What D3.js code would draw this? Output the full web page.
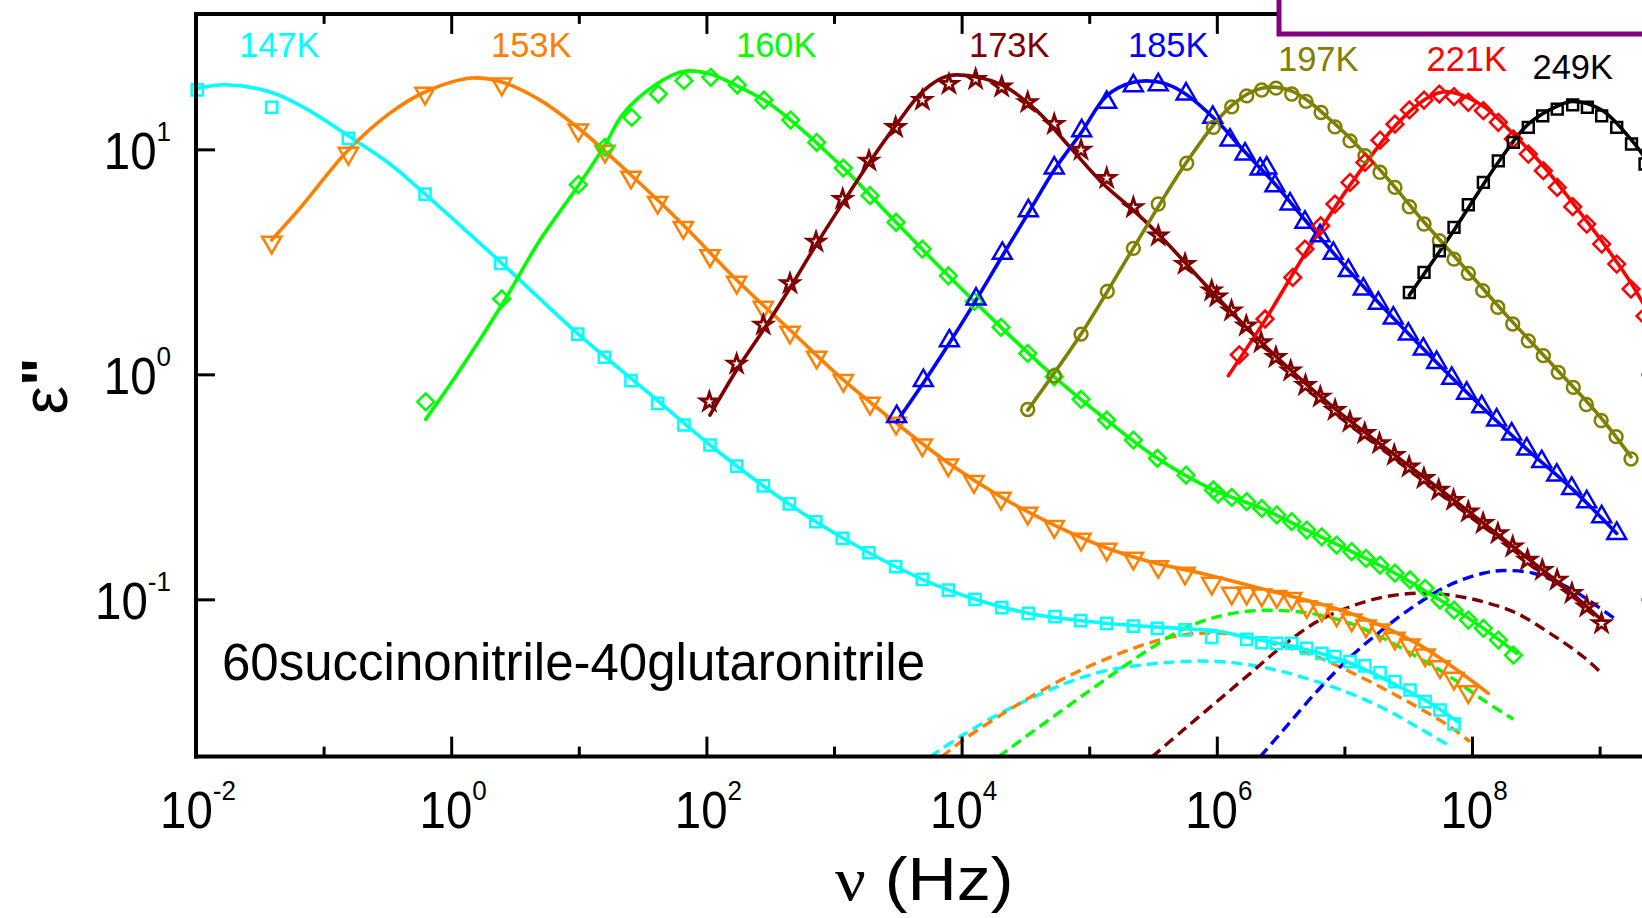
<!DOCTYPE html>
<html><head><meta charset="utf-8">
<script src="https://cdn.jsdelivr.net/npm/d3@7"></script>
<style>html,body{margin:0;padding:0;background:#fff;overflow:hidden}</style>
</head><body>
<svg id="c" width="1642" height="918"></svg>
<script>
// Values, stored as [log10(nu / Hz), log10(eps'')]
const temps = ["147K","153K","160K","173K","185K","197K","221K","249K"];
const xMajorExp = [-2,0,2,4,6,8];
const xMinorExp = [-1,1,3,5,7,9];
const yTickExp = [-1,0,1];
const sample = "60succinonitrile-40glutaronitrile";

const d147 = [[-1.990,1.264],[-1.407,1.187],[-0.806,1.049],[-0.205,0.801],[0.388,0.493],[0.991,0.179],[1.200,0.076],[1.409,-0.028],[1.618,-0.129],[1.824,-0.225],[2.028,-0.314],[2.237,-0.408],[2.446,-0.496],[2.650,-0.576],[2.857,-0.655],[3.065,-0.729],[3.274,-0.793],[3.483,-0.855],[3.692,-0.911],[3.896,-0.959],[4.105,-1.000],[4.314,-1.037],[4.523,-1.062],[4.732,-1.077],[4.933,-1.095],[5.137,-1.107],[5.346,-1.119],[5.534,-1.129],[5.751,-1.136],[5.960,-1.169],[6.234,-1.178],[6.352,-1.193],[6.470,-1.196],[6.587,-1.196],[6.705,-1.218],[6.822,-1.240],[6.926,-1.255],[7.044,-1.277],[7.161,-1.296],[7.279,-1.326],[7.396,-1.366],[7.514,-1.403],[7.632,-1.455],[7.749,-1.492],[7.859,-1.554]];
const fit147 = [[-2.0,1.27],[-1.773,1.287],[-1.407,1.253],[-1.132,1.179],[-0.806,1.060],[-0.480,0.935],[-0.205,0.801],[0.388,0.498],[0.996,0.179],[1.558,-0.088],[2.028,-0.314],[2.446,-0.496],[2.857,-0.655],[3.274,-0.793],[3.692,-0.911],[4.105,-1.000],[4.523,-1.062],[4.933,-1.095],[5.346,-1.116],[5.735,-1.130],[6.002,-1.141],[6.260,-1.172],[6.652,-1.216],[7.044,-1.283],[7.436,-1.390],[7.671,-1.461],[7.890,-1.545]];
const dash147 = [[3.752,-1.700],[3.987,-1.611],[4.301,-1.507],[4.589,-1.428],[4.850,-1.366],[5.137,-1.316],[5.476,-1.288],[5.737,-1.276],[5.999,-1.276],[6.260,-1.292],[6.521,-1.322],[6.783,-1.366],[7.044,-1.418],[7.305,-1.484],[7.567,-1.566],[7.814,-1.648]];

const d153 = [[-1.407,0.587],[-0.806,0.982],[-0.205,1.249],[0.396,1.290],[0.996,1.086],[1.205,0.991],[1.409,0.876],[1.618,0.764],[1.819,0.653],[2.028,0.527],[2.237,0.409],[2.446,0.298],[2.655,0.187],[2.864,0.076],[3.073,-0.028],[3.282,-0.129],[3.486,-0.218],[3.692,-0.314],[3.896,-0.403],[4.097,-0.477],[4.309,-0.551],[4.518,-0.618],[4.726,-0.677],[4.936,-0.733],[5.137,-0.778],[5.346,-0.818],[5.541,-0.855],[5.751,-0.884],[5.960,-0.929],[6.117,-0.973],[6.234,-0.973],[6.352,-0.981],[6.470,-0.988],[6.587,-0.996],[6.705,-1.033],[6.822,-1.048],[6.939,-1.070],[7.057,-1.092],[7.169,-1.119],[7.279,-1.136],[7.396,-1.173],[7.514,-1.203],[7.632,-1.248],[7.749,-1.300],[7.859,-1.351],[7.971,-1.411]];
const fit153 = [[-1.407,0.597],[-1.185,0.739],[-0.806,0.997],[-0.480,1.161],[-0.205,1.255],[0.161,1.317],[0.396,1.299],[0.696,1.219],[0.996,1.095],[1.409,0.886],[1.819,0.664],[2.237,0.419],[2.655,0.197],[3.073,-0.025],[3.486,-0.216],[3.896,-0.394],[4.309,-0.545],[4.726,-0.670],[5.137,-0.772],[5.476,-0.833],[5.868,-0.883],[6.391,-0.959],[7.044,-1.062],[7.567,-1.196],[8.128,-1.418]];
const dash153 = [[3.844,-1.700],[4.013,-1.625],[4.327,-1.507],[4.589,-1.418],[4.850,-1.338],[5.111,-1.270],[5.476,-1.193],[5.737,-1.158],[5.999,-1.150],[6.260,-1.170],[6.521,-1.208],[6.783,-1.255],[7.044,-1.322],[7.305,-1.396],[7.567,-1.477],[7.828,-1.566],[7.984,-1.633]];

const d160 = [[-0.200,-0.122],[0.396,0.335],[0.996,0.843],[1.205,1.009],[1.414,1.142],[1.623,1.246],[1.824,1.305],[2.034,1.320],[2.242,1.286],[2.451,1.219],[2.660,1.130],[2.864,1.031],[3.073,0.917],[3.282,0.794],[3.486,0.676],[3.692,0.557],[3.896,0.438],[4.100,0.324],[4.309,0.209],[4.518,0.093],[4.726,-0.011],[4.936,-0.111],[5.137,-0.203],[5.346,-0.292],[5.534,-0.373],[5.759,-0.448],[5.973,-0.514],[6.009,-0.532],[6.117,-0.547],[6.234,-0.566],[6.352,-0.596],[6.470,-0.625],[6.587,-0.655],[6.705,-0.692],[6.822,-0.722],[6.939,-0.759],[7.057,-0.788],[7.169,-0.818],[7.279,-0.848],[7.396,-0.884],[7.514,-0.914],[7.632,-0.951],[7.749,-1.003],[7.859,-1.048],[7.971,-1.092],[8.089,-1.129],[8.206,-1.181],[8.324,-1.248]];
const fit160 = [[-0.200,-0.200],[0.069,0.019],[0.396,0.308],[0.696,0.597],[0.994,0.837],[1.205,1.019],[1.346,1.157],[1.610,1.290],[1.824,1.347],[2.028,1.335],[2.237,1.283],[2.451,1.219],[2.660,1.130],[3.073,0.917],[3.486,0.676],[3.896,0.438],[4.309,0.209],[4.726,-0.011],[5.137,-0.203],[5.534,-0.373],[5.973,-0.514],[6.352,-0.596],[6.705,-0.692],[7.057,-0.788],[7.396,-0.884],[7.749,-1.003],[8.089,-1.129],[8.350,-1.240]];
const dash160 = [[4.288,-1.700],[4.589,-1.575],[4.850,-1.468],[5.111,-1.362],[5.476,-1.220],[5.737,-1.132],[5.999,-1.078],[6.260,-1.052],[6.521,-1.050],[6.783,-1.067],[7.044,-1.107],[7.305,-1.173],[7.567,-1.255],[7.828,-1.344],[8.089,-1.448],[8.324,-1.533]];

const d173 = [[2.023,-0.122],[2.237,0.046],[2.446,0.220],[2.655,0.404],[2.859,0.589],[3.068,0.779],[3.274,0.949],[3.483,1.098],[3.692,1.219],[3.901,1.290],[4.110,1.312],[4.314,1.278],[4.518,1.209],[4.726,1.112],[4.936,0.997],[5.137,0.872],[5.346,0.742],[5.541,0.616],[5.751,0.490],[5.960,0.372],[5.999,0.345],[6.115,0.283],[6.231,0.216],[6.347,0.142],[6.463,0.076],[6.579,0.016],[6.695,-0.048],[6.811,-0.100],[6.927,-0.159],[7.043,-0.211],[7.159,-0.262],[7.275,-0.307],[7.391,-0.359],[7.507,-0.411],[7.623,-0.462],[7.739,-0.514],[7.855,-0.559],[7.971,-0.611],[8.087,-0.662],[8.203,-0.707],[8.319,-0.766],[8.435,-0.825],[8.551,-0.870],[8.667,-0.914],[8.783,-0.973],[8.899,-1.033],[9.015,-1.107]];
const fit173 = [[2.028,-0.181],[2.237,0.019],[2.446,0.197],[2.655,0.384],[2.859,0.575],[3.068,0.761],[3.274,0.939],[3.491,1.112],[3.700,1.260],[3.896,1.327],[4.105,1.323],[4.327,1.283],[4.589,1.172],[4.850,1.009],[5.111,0.846],[5.346,0.730],[5.555,0.616],[5.999,0.345],[6.470,0.076],[6.939,-0.159],[7.396,-0.359],[7.859,-0.559],[8.321,-0.766],[8.781,-0.973],[9.016,-1.092]];
const dash173 = [[5.492,-1.700],[5.737,-1.581],[5.999,-1.455],[6.260,-1.330],[6.521,-1.205],[6.783,-1.100],[7.044,-1.033],[7.305,-0.990],[7.567,-0.973],[7.828,-0.981],[8.089,-1.011],[8.350,-1.062],[8.611,-1.151],[8.872,-1.255],[9.016,-1.329]];

const d185 = [[3.491,-0.188],[3.700,-0.028],[3.904,0.149],[4.113,0.335],[4.319,0.538],[4.523,0.727],[4.726,0.917],[4.941,1.083],[5.137,1.209],[5.346,1.283],[5.541,1.287],[5.759,1.246],[5.968,1.142],[6.103,1.041],[6.221,0.979],[6.339,0.912],[6.391,0.917],[6.456,0.838],[6.574,0.757],[6.691,0.676],[6.809,0.616],[6.913,0.538],[7.031,0.461],[7.148,0.379],[7.266,0.316],[7.383,0.250],[7.501,0.179],[7.618,0.112],[7.723,0.053],[7.841,-0.018],[7.958,-0.084],[8.076,-0.144],[8.193,-0.203],[8.311,-0.265],[8.429,-0.332],[8.546,-0.388],[8.664,-0.448],[8.781,-0.507],[8.899,-0.566],[9.016,-0.633],[9.134,-0.707]];
const fit185 = [[3.491,-0.211],[3.700,-0.039],[3.904,0.139],[4.113,0.330],[4.319,0.526],[4.523,0.717],[4.726,0.908],[4.941,1.077],[5.137,1.238],[5.346,1.298],[5.555,1.298],[5.737,1.253],[5.999,1.127],[6.221,0.988],[6.456,0.846],[6.691,0.686],[7.031,0.464],[7.383,0.250],[7.723,0.053],[8.076,-0.144],[8.429,-0.332],[8.781,-0.507],[9.134,-0.707]];
const dash185 = [[6.339,-1.700],[6.521,-1.581],[6.783,-1.410],[7.044,-1.258],[7.305,-1.132],[7.567,-1.022],[7.828,-0.935],[8.089,-0.884],[8.245,-0.872],[8.480,-0.884],[8.742,-0.944],[8.872,-0.988],[9.134,-1.092]];

const d197 = [[4.518,-0.156],[4.726,-0.006],[4.936,0.179],[5.142,0.369],[5.346,0.560],[5.541,0.757],[5.764,0.938],[5.973,1.098],[6.117,1.189],[6.234,1.238],[6.352,1.264],[6.464,1.272],[6.587,1.246],[6.699,1.213],[6.817,1.164],[6.926,1.100],[7.044,1.038],[7.161,0.972],[7.279,0.898],[7.396,0.831],[7.509,0.745],[7.624,0.668],[7.744,0.594],[7.859,0.512],[7.971,0.449],[8.084,0.372],[8.202,0.298],[8.319,0.224],[8.441,0.149],[8.559,0.083],[8.676,0.009],[8.794,-0.058],[8.896,-0.134],[9.012,-0.205],[9.129,-0.277],[9.246,-0.376]];
const fit197 = [[4.518,-0.159],[4.936,0.179],[5.346,0.561],[5.764,0.944],[6.117,1.196],[6.352,1.272],[6.587,1.259],[6.926,1.113],[7.279,0.908],[7.624,0.677],[7.971,0.455],[8.319,0.232],[8.676,0.015],[9.012,-0.194],[9.246,-0.367]];

const d221 = [[6.176,0.087],[6.378,0.246],[6.595,0.431],[6.691,0.557],[6.814,0.660],[6.926,0.757],[7.044,0.853],[7.161,0.942],[7.279,1.041],[7.396,1.112],[7.509,1.175],[7.624,1.219],[7.744,1.246],[7.859,1.234],[7.971,1.209],[8.089,1.172],[8.206,1.120],[8.324,1.046],[8.441,0.979],[8.559,0.905],[8.668,0.831],[8.789,0.745],[8.899,0.668],[9.016,0.579],[9.134,0.490],[9.246,0.379],[9.356,0.259]];
const fit221 = [[6.090,-0.006],[6.378,0.241],[6.691,0.535],[7.044,0.841],[7.396,1.103],[7.624,1.219],[7.749,1.253],[7.859,1.252],[8.089,1.192],[8.324,1.068],[8.559,0.926],[8.789,0.762],[9.016,0.593],[9.246,0.406],[9.379,0.277]];

const d249 = [[7.509,0.364],[7.624,0.453],[7.744,0.549],[7.859,0.653],[7.971,0.754],[8.089,0.853],[8.206,0.949],[8.324,1.031],[8.441,1.098],[8.554,1.149],[8.668,1.179],[8.789,1.198],[8.904,1.187],[9.016,1.149],[9.134,1.098],[9.250,1.024],[9.356,0.935]];
const fit249 = [[7.509,0.352],[7.859,0.641],[8.206,0.943],[8.441,1.112],[8.668,1.192],[8.789,1.213],[9.016,1.175],[9.250,1.041],[9.378,0.944]];

(function(){
// ---------- styling / layout ----------
const FONT = "'Liberation Sans', Arial, Helvetica, sans-serif";
const series = [
  {name:temps[0], color:"#00ffff", sym:"square",  pts:d147, fit:fit147, dash:dash147, lx:239,    ly:56.7},
  {name:temps[1], color:"#ff8000", sym:"triDown", pts:d153, fit:fit153, dash:dash153, lx:491,    ly:56.7},
  {name:temps[2], color:"#00ff00", sym:"diamond", pts:d160, fit:fit160, dash:dash160, lx:736,    ly:56.7},
  {name:temps[3], color:"#800000", sym:"star",    pts:d173, fit:fit173, dash:dash173, lx:969,    ly:56.7},
  {name:temps[4], color:"#0000ff", sym:"triUp",   pts:d185, fit:fit185, dash:dash185, lx:1128,   ly:56.7},
  {name:temps[5], color:"#808000", sym:"circle",  pts:d197, fit:fit197, dash:null,    lx:1278,   ly:71.3},
  {name:temps[6], color:"#ff0000", sym:"diamond", pts:d221, fit:fit221, dash:null,    lx:1426.5, ly:71.3},
  {name:temps[7], color:"#000000", sym:"squareK", pts:d249, fit:fit249, dash:null,    lx:1532.5, ly:79}
];
const symbols = {
  square:  {type:d3.symbolSquare,   size:125, rot:0},
  triDown: {type:d3.symbolTriangle, size:160, rot:180},
  diamond: {type:d3.symbolSquare,   size:140, rot:45},
  star:    {type:d3.symbolStar,     size:92,  rot:0},
  triUp:   {type:d3.symbolTriangle, size:155, rot:0},
  circle:  {type:d3.symbolCircle,   size:130, rot:0},
  squareK: {type:d3.symbolSquare,   size:118, rot:0}
};

const svg = d3.select("#c");
svg.append("rect").attr("width",1642).attr("height",918).attr("fill","#fff");

const pL = 196, pR = 1660.5, pT = 13.9, pB = 756.6;
const x = d3.scaleLog().domain([1e-2, 3e9]).range([pL, pR]);
const y = d3.scaleLog().domain([0.02, 40]).range([pB, pT]);
const px = d => x(Math.pow(10, d[0]));
const py = d => y(Math.pow(10, d[1]));

svg.append("clipPath").attr("id","plotclip").append("rect")
  .attr("x",pL).attr("y",pT).attr("width",pR-pL).attr("height",pB-pT);

const line = d3.line().x(px).y(py).curve(d3.curveCatmullRom.alpha(0.5));
const plot = svg.append("g");
const linesG = plot.append("g").attr("clip-path","url(#plotclip)");

series.filter(s => s.dash).forEach(s => {
  linesG.append("path").datum(s.dash).attr("d", line)
    .attr("fill","none").attr("stroke", s.color).attr("stroke-width",3.4)
    .attr("stroke-dasharray","11,6");
});
series.forEach(s => {
  linesG.append("path").datum(s.fit).attr("d", line)
    .attr("fill","none").attr("stroke", s.color).attr("stroke-width",3.6)
    .attr("stroke-linejoin","round").attr("stroke-linecap","round");
});
series.forEach(s => {
  const sp = symbols[s.sym];
  const gen = d3.symbol().type(sp.type).size(sp.size);
  plot.append("g").selectAll("path").data(s.pts).join("path")
    .attr("d", gen)
    .attr("transform", d => `translate(${px(d)},${py(d)}) rotate(${sp.rot})`)
    .attr("fill","none").attr("stroke", s.color)
    .attr("stroke-width", s.sym === "star" ? 2.8 : 2.5);
});

// ---------- axes ----------
const axW = 4, tkW = 3;
function styleAxis(g){
  g.select(".domain").remove();
  g.selectAll(".tick line").attr("stroke","#000").attr("stroke-width",tkW);
  g.selectAll(".tick text").remove();
}
const xMaj = xMajorExp.map(e => Math.pow(10,e));
const xMin = xMinorExp.map(e => Math.pow(10,e));
const yMaj = yTickExp.map(e => Math.pow(10,e));

svg.append("g").attr("transform",`translate(0,${pB})`)
  .call(d3.axisBottom(x).tickValues(xMaj).tickSizeInner(-20).tickSizeOuter(0).tickFormat("")).call(styleAxis);
svg.append("g").attr("transform",`translate(0,${pB})`)
  .call(d3.axisBottom(x).tickValues(xMin).tickSizeInner(-10).tickSizeOuter(0).tickFormat("")).call(styleAxis);
svg.append("g").attr("transform",`translate(0,${pT})`)
  .call(d3.axisTop(x).tickValues(xMaj).tickSizeInner(-20).tickSizeOuter(0).tickFormat("")).call(styleAxis);
svg.append("g").attr("transform",`translate(0,${pT})`)
  .call(d3.axisTop(x).tickValues(xMin).tickSizeInner(-10).tickSizeOuter(0).tickFormat("")).call(styleAxis);
svg.append("g").attr("transform",`translate(${pL},0)`)
  .call(d3.axisLeft(y).tickValues(yMaj).tickSizeInner(-19).tickSizeOuter(0).tickFormat("")).call(styleAxis);
svg.append("g").attr("transform",`translate(${pR},0)`)
  .call(d3.axisRight(y).tickValues(yMaj).tickSizeInner(-19).tickSizeOuter(0).tickFormat("")).call(styleAxis);

const frame = svg.append("g").attr("stroke","#000").attr("stroke-width",axW).attr("stroke-linecap","square");
frame.append("line").attr("x1",pL).attr("x2",pR).attr("y1",pB).attr("y2",pB);
frame.append("line").attr("x1",pL).attr("x2",pR).attr("y1",pT).attr("y2",pT);
frame.append("line").attr("x1",pL).attr("x2",pL).attr("y1",pT).attr("y2",pB);
frame.append("line").attr("x1",pR).attr("x2",pR).attr("y1",pT).attr("y2",pB);

function powText(g, tx, ty, exp, anchor){
  const t = g.append("text").attr("transform",`translate(${tx},${ty}) scale(0.93,1)`)
    .attr("text-anchor",anchor).style("font-family",FONT).attr("fill","#000");
  t.append("tspan").style("font-size","51px").text("10");
  t.append("tspan").style("font-size","28px").attr("dy",-28).text(String(exp));
}
const labG = svg.append("g");
xMajorExp.forEach(e => powText(labG, x(Math.pow(10,e)) + 2, 828, e, "middle"));
yTickExp.forEach(e => powText(labG, 171, y(Math.pow(10,e)) + 20, e, "end"));

const yt = svg.append("text").attr("transform","translate(67,386) rotate(-90)")
  .attr("text-anchor","middle").style("font-family",FONT).attr("fill","#000");
yt.append("tspan").style("font-size","64px").text("ε");
yt.append("tspan").style("font-size","60px").style("font-weight","bold").attr("dy",-4).text('"');

const xt = svg.append("text").attr("transform","translate(835,900) scale(1.1,1)")
  .attr("fill","#000").style("font-size","62px");
xt.append("tspan").style("font-family","'Liberation Serif', 'Times New Roman', serif").text("ν");
xt.append("tspan").style("font-family",FONT).text(" (Hz)");

series.forEach(s => {
  svg.append("text").attr("x",s.lx).attr("y",s.ly).attr("fill",s.color)
    .style("font-family",FONT).style("font-size","34.5px").text(s.name);
});

svg.append("text").attr("x",222).attr("y",680).attr("fill","#000")
  .style("font-family",FONT).style("font-size","51px").text(sample);

svg.append("rect").attr("x",1279).attr("y",-30).attr("width",420).attr("height",64)
  .attr("fill","#fff").attr("stroke","#800080").attr("stroke-width",5);
})();
</script>
</body></html>
